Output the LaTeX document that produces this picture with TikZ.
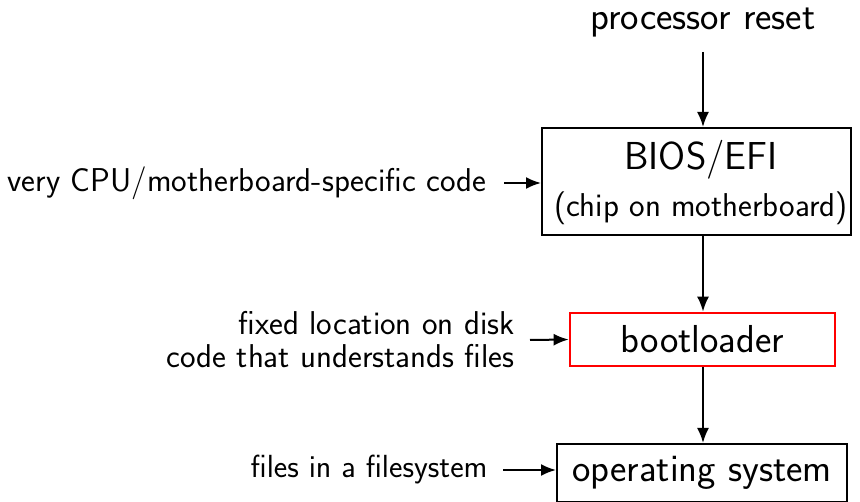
\documentclass[tikz,border=0pt]{standalone}
\usetikzlibrary{arrows.meta}
\begin{document}
\begin{tikzpicture}[x=1pt,y=-1pt,
  every node/.style={font=\sffamily},
  arr/.style={line width=2pt,-{Latex[length=15pt,width=12pt]}},
  boxb/.style={draw,line width=2pt,inner sep=0pt},
  big/.style={font=\sffamily\fontsize{39}{46}\selectfont},
  lab/.style={font=\sffamily\fontsize{33}{33}\selectfont}]
\useasboundingbox (0,0) rectangle (860,502);
\node[big] (reset) at (703,23) {processor reset};
\node[boxb,minimum width=309pt,minimum height=107pt] (bios) at (696.5,181.5) {};
\node[big] (biost) at (701,160) {BIOS/EFI};
\node[lab] (biosc) at (701,208) {(chip on motherboard)};
\node[lab,anchor=east] (cpu) at (490,183) {very CPU/motherboard-specific code};
\node[boxb,draw=red,line width=2.7pt,minimum width=265pt,minimum height=53pt,big] (boot) at (702.5,339.5) {bootloader};
\node[lab,anchor=east,align=right] (fixed) at (518,340) {fixed location on disk\\code that understands files};
\node[boxb,minimum width=290pt,minimum height=58pt,big] (os) at (702,473) {operating system};
\node[lab,anchor=east,font=\sffamily\fontsize{32}{33}\selectfont] (files) at (491,470) {files in a filesystem};
\coordinate (r0) at (703,52);
\draw[arr] (r0) -- (r0 |- bios.north);
\draw[arr] (bios.south -| r0) -- (r0 |- boot.north);
\draw[arr] (boot.south -| r0) -- (r0 |- os.north);
\draw[arr] (cpu.east) ++(14,0) -- (bios.west |- cpu.east);
\draw[arr] (fixed.east) ++(12,0) -- (boot.west);
\draw[arr] (files.east) ++(12,0) -- (os.west |- files.east);
\end{tikzpicture}
\end{document}
